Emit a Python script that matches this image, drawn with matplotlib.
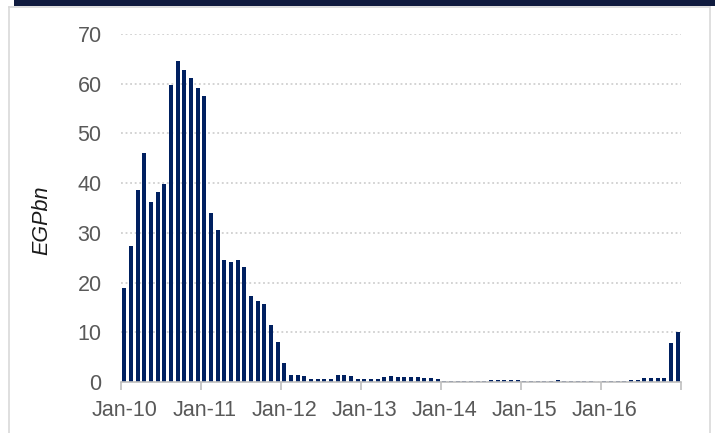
import matplotlib
matplotlib.use("Agg")
import matplotlib.pyplot as plt
from matplotlib.patches import Rectangle
from matplotlib.lines import Line2D
import numpy as np

# Monthly values, EGP bn
y2010 = [19.0, 27.3, 38.6, 46.1, 36.2, 38.3, 39.9, 59.8, 64.6, 62.7, 61.2, 59.2]
y2011 = [57.6, 33.9, 30.6, 24.6, 24.2, 24.6, 23.2, 17.2, 16.3, 15.7, 11.5, 8.0]
y2012 = [3.8, 1.5, 1.5, 1.3, 0.7, 0.7, 0.7, 0.7, 1.5, 1.5, 1.3, 0.7]
y2013 = [0.6, 0.6, 0.6, 1.1, 1.2, 1.1, 1.0, 1.0, 1.0, 0.9, 0.9, 0.7]
y2014 = [0.2, 0.2, 0.2, 0.2, 0.2, 0.2, 0.2, 0.4, 0.5, 0.5, 0.5, 0.5]
y2015 = [0.2, 0.2, 0.15, 0.15, 0.2, 0.35, 0.2, 0.2, 0.15, 0.15, 0.2, 0.0]
y2016 = [0.15, 0.15, 0.2, 0.3, 0.5, 0.5, 0.9, 0.9, 0.9, 0.9, 7.8, 10.1]

year_labels = ["Jan-10", "Jan-11", "Jan-12", "Jan-13", "Jan-14", "Jan-15", "Jan-16"]
y_ticks = [0, 10, 20, 30, 40, 50, 60, 70]

values = np.array(y2010 + y2011 + y2012 + y2013 + y2014 + y2015 + y2016)
n = len(values)

W, H, DPI = 715, 433, 100
fig = plt.figure(figsize=(W / DPI, H / DPI), dpi=DPI)
fig.patch.set_facecolor("white")

# header band and panel frame
fig.patches.append(Rectangle((14 / W, 1 - 6 / H), 1, 6 / H, transform=fig.transFigure,
                             facecolor="#101b3f", edgecolor="none", zorder=0))
fig.lines.append(Line2D([9 / W, 9 / W], [0, 1 - 7 / H], transform=fig.transFigure,
                        color="#d9d9d9", lw=1.2))
fig.lines.append(Line2D([710 / W, 710 / W], [0, 1 - 7 / H], transform=fig.transFigure,
                        color="#d9d9d9", lw=1.2))
fig.lines.append(Line2D([9 / W, 710 / W], [1 - 7 / H, 1 - 7 / H], transform=fig.transFigure,
                        color="#d9d9d9", lw=1.2))

left, right, top, bottom = 121, 681, 34, 382
ax = fig.add_axes([left / W, 1 - bottom / H, (right - left) / W, (bottom - top) / H])

x = np.arange(n) + 0.5
ax.bar(x, values, width=0.64, color="#002060", edgecolor="none", zorder=3)

ax.set_xlim(0, n)
ax.set_ylim(0, 70)

ax.set_yticks(y_ticks)
ax.set_yticklabels([str(t) for t in y_ticks])
ax.yaxis.grid(True, color="#c8c8c8", linestyle=(0, (1.2, 1.8)), linewidth=1.1, zorder=0)
ax.tick_params(axis="y", length=0, pad=14, labelsize=15.5, labelcolor="#595959")

# year boundaries as tick marks, labels under each January bar
ax.set_xticks(np.arange(0, n + 1, 12))
ax.set_xticklabels([])
ax.set_xticks(np.arange(0, n, 12) + 0.5, minor=True)
ax.set_xticklabels(year_labels, minor=True)
ax.tick_params(axis="x", which="major", length=6, width=1.2, color="#bfbfbf", direction="out")
ax.tick_params(axis="x", which="minor", length=0, pad=13, labelsize=15.5, labelcolor="#595959")

for s in ("top", "right", "left"):
    ax.spines[s].set_visible(False)
ax.spines["bottom"].set_color("#bfbfbf")
ax.spines["bottom"].set_linewidth(1.2)
ax.spines["bottom"].set_zorder(4)

fig.text(42 / W, 1 - 220 / H, "EGPbn", rotation=90, style="italic", fontsize=15.5,
         color="#1a1a1a", ha="center", va="center")

plt.rcParams["font.family"] = ["Liberation Sans", "DejaVu Sans"]
for t in fig.findobj(matplotlib.text.Text):
    t.set_fontfamily(["Liberation Sans", "DejaVu Sans"])

fig.savefig("out.png", dpi=DPI)
